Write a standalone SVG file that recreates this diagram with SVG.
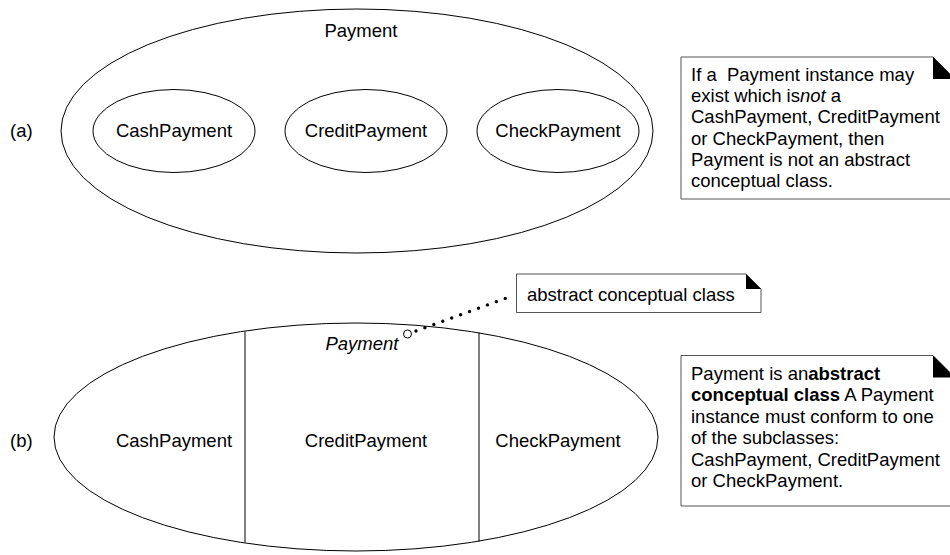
<svg xmlns="http://www.w3.org/2000/svg" width="950" height="555" viewBox="0 0 950 555">
<style>
text { font-family: "Liberation Sans", Arial, sans-serif; font-size: 18.5px; fill: #000; }
.shape { fill: none; stroke: #000; stroke-width: 1; }
.note { fill: #fff; stroke: #555; stroke-width: 1; }
.fold { fill: #000; stroke: none; }
.c { text-anchor: middle; }
.b { font-weight: bold; }
.i { font-style: italic; }
.dots { fill: none; stroke: #000; stroke-width: 3.4; stroke-linecap: round; stroke-dasharray: 0 9.5; }
</style>
<rect width="950" height="555" fill="#fff"/>

<g id="label-a"><text x="10" y="137">(a)</text></g>
<g id="payment-a">
  <ellipse class="shape" cx="357" cy="131" rx="296" ry="122"/>
  <text class="c" x="361" y="37">Payment</text>
</g>
<g id="cash-a">
  <ellipse class="shape" cx="174" cy="131" rx="81" ry="41.5"/>
  <text class="c" x="174" y="137">CashPayment</text>
</g>
<g id="credit-a">
  <ellipse class="shape" cx="366" cy="131" rx="81" ry="41.5"/>
  <text class="c" x="366" y="137">CreditPayment</text>
</g>
<g id="check-a">
  <ellipse class="shape" cx="558" cy="131" rx="81" ry="41.5"/>
  <text class="c" x="558" y="137">CheckPayment</text>
</g>

<g id="note-a">
  <path class="note" d="M681,57 H933 L955,79 V199 H681 Z"/>
  <path class="fold" d="M933,57 V79 H955 Z"/>
  <text x="691" y="81" xml:space="preserve">If a  Payment instance may</text>
  <text x="691" y="102.2">exist which is<tspan class="i">not</tspan> a</text>
  <text x="691" y="123.4">CashPayment, CreditPayment</text>
  <text x="691" y="144.6">or CheckPayment, then</text>
  <text x="691" y="165.8">Payment is not an abstract</text>
  <text x="691" y="187">conceptual class.</text>
</g>

<g id="label-b"><text x="10" y="447">(b)</text></g>
<g id="payment-b">
  <ellipse class="shape" cx="356" cy="437" rx="302" ry="114"/>
  <text class="c i" x="362" y="350">Payment</text>
  <circle cx="407.5" cy="334" r="4" fill="#fff" stroke="#000" stroke-width="1"/>
</g>
<g id="cash-b">
  <text class="c" x="174" y="447">CashPayment</text>
</g>
<g id="credit-b">
  <line class="shape" x1="245" y1="331.5" x2="245" y2="542.5"/>
  <text class="c" x="366" y="447">CreditPayment</text>
</g>
<g id="check-b">
  <line class="shape" x1="479" y1="332.5" x2="479" y2="541.5"/>
  <text class="c" x="558" y="447">CheckPayment</text>
</g>

<g id="note-abstract">
  <path class="note" d="M516.5,274 H746 L761,289 V312.5 H516.5 Z"/>
  <path class="fold" d="M746,274 V289 H761 Z"/>
  <text x="527" y="301">abstract conceptual class</text>
</g>

<g id="note-b">
  <path class="note" d="M681,355.5 H933 L955,377.5 V506 H681 Z"/>
  <path class="fold" d="M933,355.5 V377.5 H955 Z"/>
  <text x="691" y="379.5">Payment is an<tspan class="b">abstract</tspan></text>
  <text x="691" y="401"><tspan class="b">conceptual class</tspan> A Payment</text>
  <text x="691" y="422.5">instance must conform to one</text>
  <text x="691" y="444">of the subclasses:</text>
  <text x="691" y="465.5">CashPayment, CreditPayment</text>
  <text x="691" y="487">or CheckPayment.</text>
</g>

<g id="connectors">
  <line class="dots" x1="416" y1="331" x2="509" y2="297"/>
</g>
</svg>
